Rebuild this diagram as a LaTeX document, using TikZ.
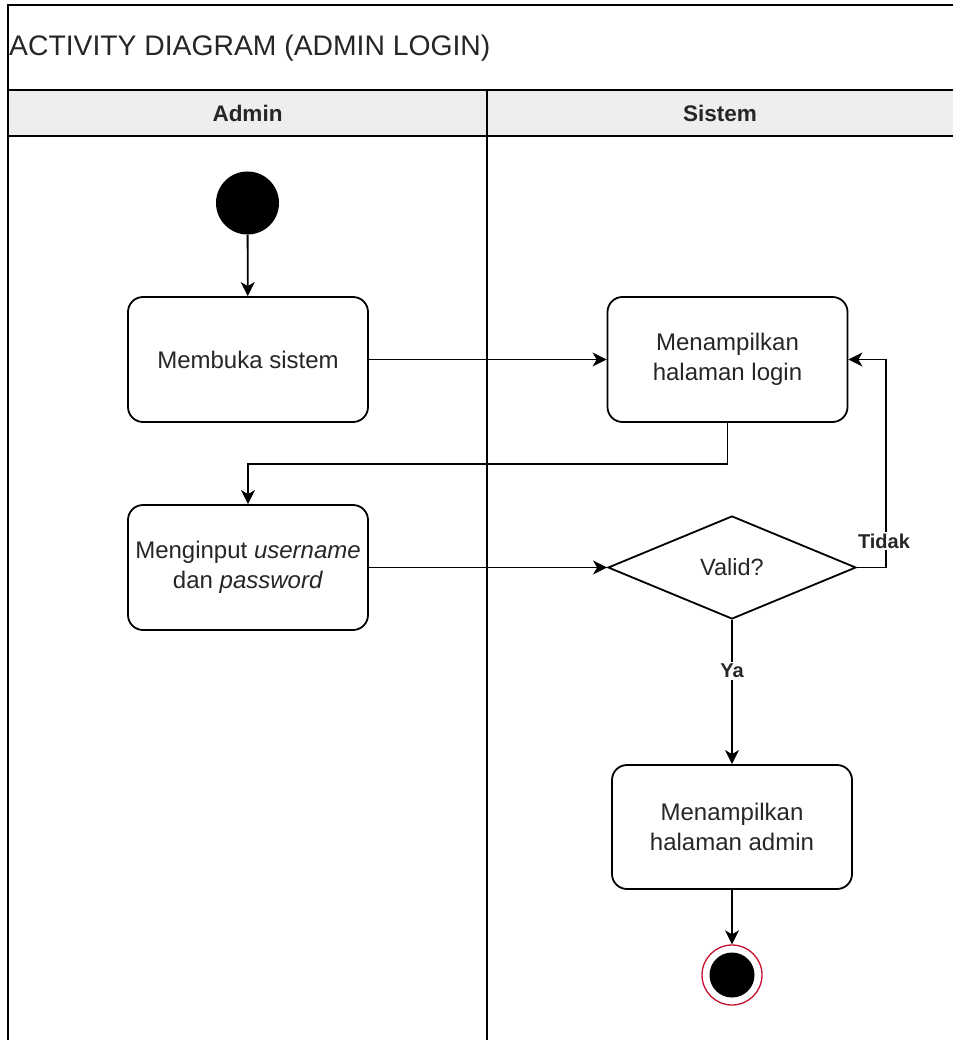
\documentclass[tikz,border=0pt]{standalone}
\usepackage{fontspec}
\setmainfont{Liberation Sans}
\usetikzlibrary{shapes.geometric,arrows.meta}
\definecolor{txt}{HTML}{262626}
\definecolor{hdr}{HTML}{EEEEEE}
\definecolor{endred}{HTML}{C8102E}
\tikzset{
  frame/.style={line width=1.6pt, draw=black},
  act/.style={draw=black, line width=1.8pt, rounded corners=15pt, fill=white,
    minimum width=240pt, minimum height=125pt, inner sep=0pt, align=center,
    text=txt, font=\fontsize{24}{30}\selectfont},
  decision/.style={draw=black, line width=1.8pt, diamond, aspect=2.4, fill=white,
    minimum width=248pt, minimum height=103pt, inner sep=0pt,
    text=txt, font=\fontsize{23.5}{28}\selectfont},
  flow/.style={line width=1.8pt, draw=black, -{Stealth[length=14pt,width=14pt,inset=4pt]}},
  guard/.style={fill=white, inner sep=2pt, text=txt, font=\bfseries\fontsize{20}{24}\selectfont},
  lanehead/.style={text=txt, font=\bfseries\fontsize{22.5}{26}\selectfont},
}
\begin{document}
\begin{tikzpicture}[x=1pt,y=-1pt]
\useasboundingbox (0,0) rectangle (953,1040);
% pool frame
\fill[hdr] (8,90) rectangle (953,136);
\draw[frame] (953,5) -- (8,5) -- (8,1040);
\draw[frame] (8,90) -- (953,90);
\draw[frame] (8,136) -- (953,136);
\draw[frame] (487,90) -- (487,1040);
\node[anchor=west, inner sep=0pt, text=txt, font=\fontsize{28.3}{32}\selectfont] (title) at (9,48) {ACTIVITY DIAGRAM (ADMIN LOGIN)};
\node[lanehead] (laneA) at (247.5,113) {Admin};
\node[lanehead] (laneS) at (720,113) {Sistem};
% nodes
\node[circle, fill=black, minimum size=63pt, inner sep=0pt] (start) at (247.5,203) {};
\node[act] (buka) at (248,359.5) {Membuka sistem};
\node[act] (login) at (727.5,359.5) {Menampilkan\\halaman login};
\node[act] (input) at (248,567.5) {Menginput \textit{username}\\dan \textit{password}};
\node[decision] (valid) at (732,567.5) {Valid?};
\node[act, minimum width=240pt, minimum height=124pt] (admin) at (732,827) {Menampilkan\\halaman admin};
\node[circle, draw=endred, line width=1.3pt, fill=white, minimum size=60pt, inner sep=0pt] (end) at (732,975) {};
\fill[black] (end.center) circle (22.5pt);
% connectors
\draw[flow] (start) -- (buka);
\draw[flow] (buka.east) -- (login.west);
\draw[flow] (login.south) -- ++(0,41) -| (input.north);
\draw[flow] (input.east) -- (valid.west);
\draw[flow] (valid.east) -- ++(29,0) |- (login.east);
\node[guard] (tidak) at (884,541) {Tidak};
\draw[flow] (valid.south) -- (admin.north) node[guard, pos=0.354] (ya) {Ya};
\draw[flow] (admin.south) -- (end.north);
\end{tikzpicture}
\end{document}
